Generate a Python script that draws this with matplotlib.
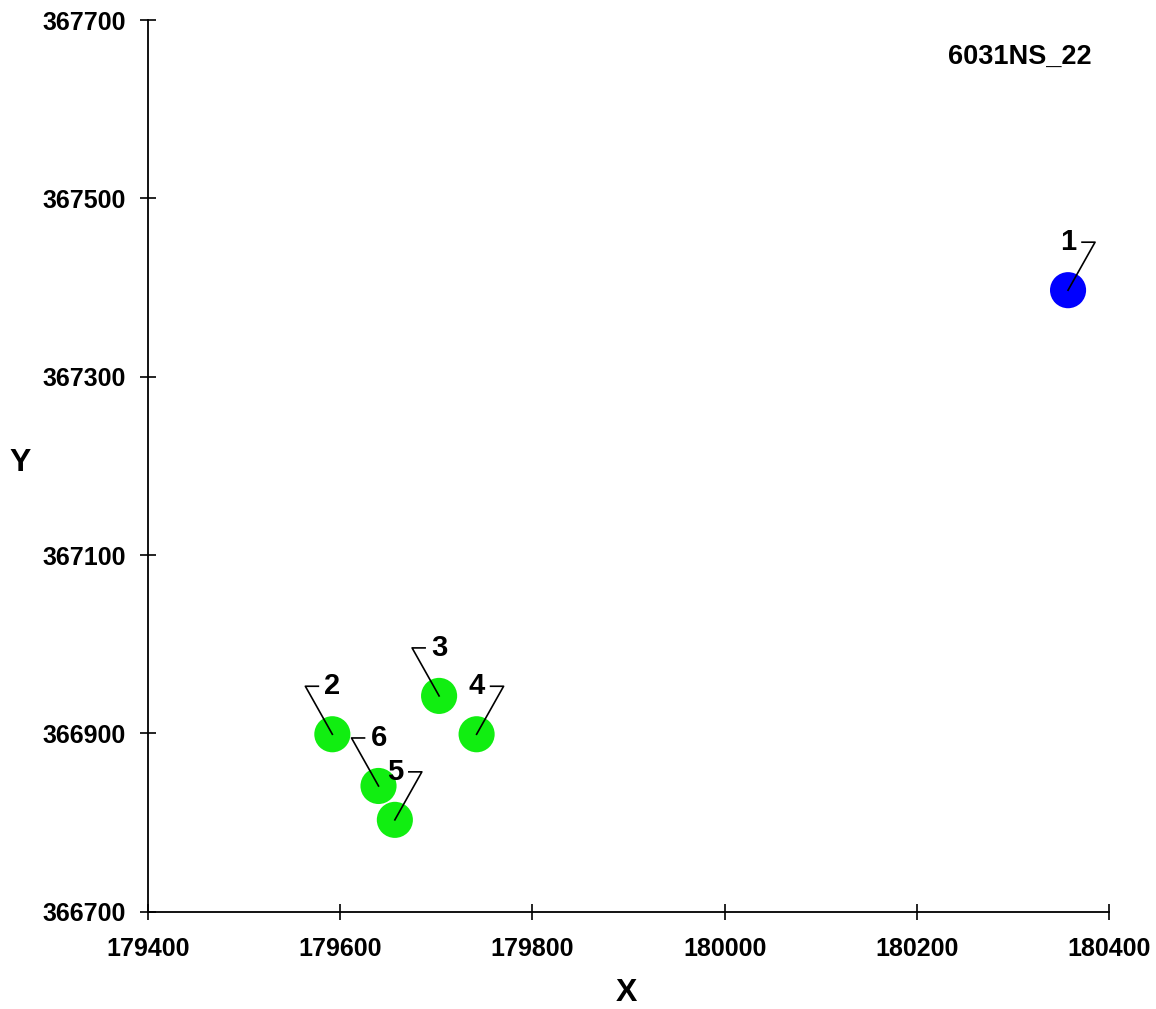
import numpy as np
import matplotlib.pyplot as plt

plt.rcParams['font.family'] = ['Liberation Sans', 'DejaVu Sans']
plt.rcParams['font.weight'] = 'bold'

# point data
labels = ['1', '2', '3', '4', '5', '6']
xs = [180357, 179592, 179703, 179742, 179657, 179640]
ys = [367397, 366899, 366942, 366899, 366803, 366841]
colors = ['#0000FF', '#11EE11', '#11EE11', '#11EE11', '#11EE11', '#11EE11']
# leader direction for each label: +1 = corner to the right, -1 = to the left
sides = [1, -1, -1, 1, 1, -1]

xticks = np.arange(179400, 180401, 200)
yticks = np.arange(366700, 367701, 200)
title = '6031NS_22'

fig = plt.figure(figsize=(11.56, 10.09), dpi=100)
ax = fig.add_axes([147.7 / 1156, 1 - 911.7 / 1009, 961.7 / 1156, 891.7 / 1009])

ax.set_xlim(179400, 180400)
ax.set_ylim(366700, 367700)

ax.scatter(xs, ys, s=26 ** 2, c=colors, zorder=3, linewidths=0)

# leader lines + labels (offsets in pixels, dpi=100)
for lab, x, y, side in zip(labels, xs, ys, sides):
    px = np.array([0, 27 * side, 14 * side])
    py = np.array([0, 48, 48])
    cx, cy = ax.transData.transform((x, y))
    line_data = ax.transData.inverted().transform(np.column_stack([cx + px, cy + py]))
    ax.plot(line_data[:, 0], line_data[:, 1], color='black', lw=1.2, zorder=4)
    ax.annotate(lab, (x, y), xytext=(0, 48 * 0.72), textcoords='offset points',
                ha='center', va='center', fontsize=21, fontweight='bold', zorder=5)

ax.set_xticks(xticks)
ax.set_yticks(yticks)
ax.tick_params(direction='inout', length=11, width=1.2, labelsize=18)
ax.tick_params(axis='x', pad=13)
ax.tick_params(axis='y', pad=10)
for lbl in ax.get_xticklabels() + ax.get_yticklabels():
    lbl.set_fontweight('bold')
ax.spines['top'].set_visible(False)
ax.spines['right'].set_visible(False)
ax.spines['left'].set_linewidth(1.3)
ax.spines['bottom'].set_linewidth(1.3)

ax.set_xlabel('X', fontsize=23, fontweight='bold', va='center')
ax.xaxis.set_label_coords(0.498, -0.091)
ax.set_ylabel('Y', fontsize=23, fontweight='bold', rotation=0, va='center', ha='center')
ax.yaxis.set_label_coords(-0.133, 0.503)

fig.text(1092 / 1156, 1 - 57 / 1009, title, ha='right', va='center',
         fontsize=19.5, fontweight='bold')

fig.savefig('out.png', dpi=100)
